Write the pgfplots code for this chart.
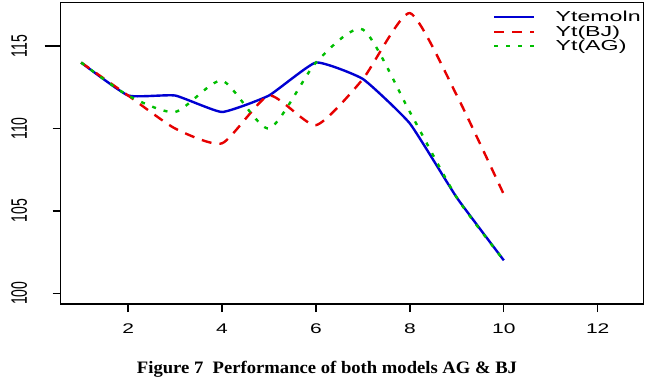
\documentclass[border=0pt]{standalone}
\usepackage{pgfplots}
\pgfplotsset{compat=1.18}
\usepackage{fontspec}
\setmainfont{Liberation Sans}
\newfontfamily\titlefont{Liberation Serif}
\definecolor{rblue}{RGB}{0,0,210}
\definecolor{rred}{RGB}{230,0,0}
\definecolor{rgreen}{RGB}{0,190,0}
\begin{document}
\begin{tikzpicture}
\begin{axis}[
  scale only axis, width=582.6pt, height=301.3pt,
  xmin=0.565, xmax=12.97, ymin=99.35, ymax=117.63,
  xtick={2,4,6,8,10,12}, ytick={100,105,110,115},
  tick align=outside, tick pos=left,
  major tick length=8pt,
  ytick style={shorten <=-8pt},
  axis line style={line width=1.3pt},
  every tick/.style={black, line width=1.3pt},
  /pgf/number format/assume math mode=true,
  tick label style={font=\fontsize{14}{14}\selectfont},
  xticklabel={\scalebox{1.5}[1]{\pgfmathprintnumber{\tick}}},
  yticklabel={\scalebox{1}[1.6]{\pgfmathprintnumber{\tick}}},
  yticklabel style={rotate=90, anchor=south},
  yticklabel shift=22pt,
  xticklabel shift=8pt,
  legend style={draw=none, fill=none, at={(0.742,0.979)}, anchor=north west,
    font=\fontsize{14.5}{14.5}\selectfont, inner sep=0pt, row sep=-1.5pt},
  legend cell align=left,
  legend image code/.code={\draw[#1] (0pt,0pt) -- (40pt,0pt);},
]
\addplot[rblue, line width=2.4pt, smooth, tension=0.25] coordinates {
 (1,114) (2,112) (3,112) (4,111) (5,112) (6,114) (7,113) (8,110.3) (9,105.8) (10,102)};
\addlegendentry{\hspace{18pt}\scalebox{1.6}[1]{Ytemoln}}
\addplot[rred, line width=2.4pt, smooth, tension=0.35, dash pattern=on 10pt off 8pt] coordinates {
 (1,114) (2,112) (3,110) (4,109.1) (5,112) (6,110.2) (7,113) (8,117) (9,112) (10,106)};
\addlegendentry{\hspace{18pt}\scalebox{1.6}[1]{Yt(BJ)}}
\addplot[rgreen, line width=2.4pt, smooth, tension=0.4, dash pattern=on 4pt off 8pt] coordinates {
 (1,114) (2,112) (3,111) (4,112.9) (5,110) (6,114) (7,116) (8,111) (9,105.8) (10,102)};
\addlegendentry{\hspace{18pt}\scalebox{1.6}[1]{Yt(AG)}}
\end{axis}
\node[anchor=base, inner sep=0pt] at ([xshift=-25pt, yshift=-69pt]current axis.south)
  {\titlefont\bfseries\resizebox{380pt}{12.3pt}{Figure 7\ \ Performance of both models AG \& BJ}};
\path ([xshift=-60.7pt, yshift=-72pt]current axis.south west) rectangle ([xshift=10.7pt, yshift=2.7pt]current axis.north east);
\end{tikzpicture}
\end{document}
